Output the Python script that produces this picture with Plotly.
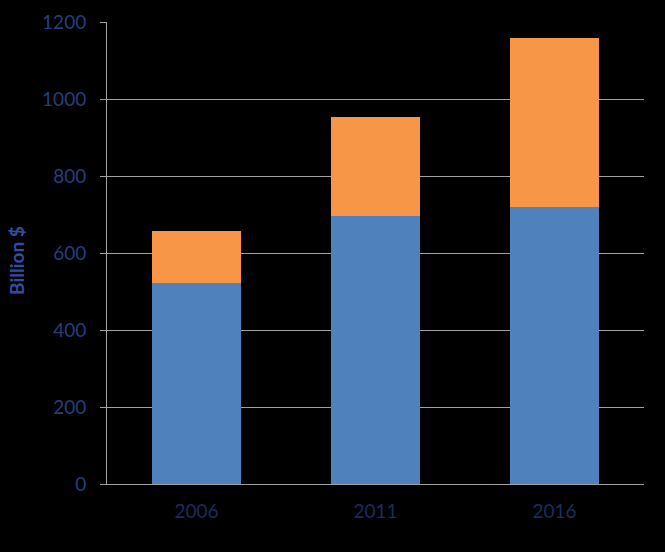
import plotly.graph_objects as go

years = ["2006", "2011", "2016"]
series_a = [522, 696, 720]
series_b = [135, 257, 438]
y_ticks = [0, 200, 400, 600, 800, 1000, 1200]

fig = go.Figure()
fig.add_trace(go.Bar(x=years, y=series_a, marker=dict(color="#4F81BD", line=dict(width=0)), name="A"))
fig.add_trace(go.Bar(x=years, y=series_b, marker=dict(color="#F79646", line=dict(width=0)), name="B"))

fig.update_layout(
    barmode="stack",
    bargap=0.5,
    width=665, height=552,
    paper_bgcolor="black", plot_bgcolor="black",
    margin=dict(l=107, r=21, t=22, b=68, autoexpand=False),
    showlegend=False,
    font=dict(family="Lato", size=19, color="#1F3A6E"),
    xaxis=dict(showline=True, linecolor="#A0A0A0", linewidth=1, ticks="", automargin=False,
               tickfont=dict(color="#1B2C5E", size=19), showgrid=False, ticklabelstandoff=10),
    yaxis=dict(range=[0, 1200], tickvals=y_ticks, showgrid=True, gridcolor="#A0A0A0", gridwidth=1,
               showline=True, linecolor="#A0A0A0", linewidth=1, ticks="outside", ticklen=6,
               tickcolor="#A0A0A0", zeroline=False, tickfont=dict(color="#243F7A", size=19),
               ticklabelstandoff=10, automargin=False),
    annotations=[dict(text="<b>Billion $</b>", xref="paper", yref="paper", x=-0.1676, y=0.485,
                      xanchor="center", yanchor="middle", textangle=-90, showarrow=False,
                      font=dict(color="#2E4FA3", size=19, family="Lato"))],
)
fig.write_html("out.html")
